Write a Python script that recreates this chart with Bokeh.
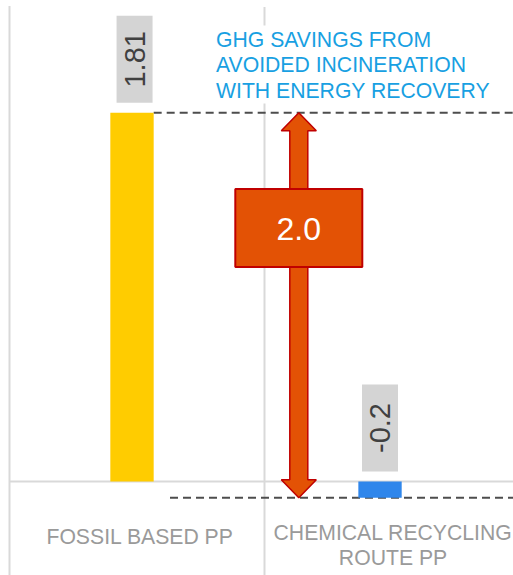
import numpy as np
from bokeh.plotting import figure
from bokeh.models import Range1d
from bokeh.core.properties import value
from bokeh.embed import file_html
from bokeh.resources import INLINE

# ---- data ----
categories = ["FOSSIL BASED PP", "CHEMICAL RECYCLING\nROUTE PP"]
bar_values = [1.81, -0.08]          # bar lengths as drawn
label_values = [1.81, -0.2]         # values printed on labels
bar_colors = ["#ffcc00", "#2f86eb"]
annotation_lines = ["GHG SAVINGS FROM", "AVOIDED INCINERATION", "WITH ENERGY RECOVERY"]
savings = label_values[0] - label_values[1]

FONT = value("Liberation Sans")
W, H = 513, 575
PX_X = 255.0      # pixels per category
PX_Y = 203.7      # pixels per unit
X0_PX = 9.0       # px of x = 0
Y0_PX = 481.0     # px (from top) of value 0


def X(px):
    return (px - X0_PX) / PX_X


def Y(py):
    return (Y0_PX - py) / PX_Y


p = figure(width=W, height=H, output_backend="svg", toolbar_location=None,
           x_range=Range1d(X(0), X(W)), y_range=Range1d(Y(H), Y(0)),
           x_axis_location=None, y_axis_location=None, min_border=0,
           outline_line_color=None, background_fill_color="white")
p.grid.visible = False

xr_end = X(W)
grid_c = "#d9d9d9"
# grid lines
p.segment(x0=[0, 1, 1, 0], y0=[Y(5.5), Y(6.5), Y(103), 0],
          x1=[0, 1, 1, xr_end], y1=[Y(H), Y(25), Y(H), 0],
          line_color=grid_c, line_width=2)

# dashed reference lines
bar_w = 0.17
bar_x = [0.4804, 1.453]
p.segment(x0=[bar_x[0] + bar_w / 2, X(169.5)], y0=bar_values, x1=[xr_end, xr_end], y1=bar_values,
          line_color="#4d4d4d", line_width=2, line_dash="8 5")

# bars
p.vbar(x=bar_x, top=bar_values, bottom=0, width=bar_w, fill_color=bar_colors, line_color=None)

# value labels (rotated with grey boxes)
box_h = 87 / PX_Y
box_w = 36 / PX_X
gap = 10 / PX_Y
box_bottom = [max(v, 0) + gap for v in bar_values]
box_cy = [b + box_h / 2 for b in box_bottom]
lab_x = [bar_x[0] + 0.01, bar_x[1]]
p.rect(x=lab_x, y=box_cy, width=box_w, height=box_h, fill_color="#d4d4d4", line_color=None)
p.text(x=lab_x, y=box_cy, text=[f"{v:g}" for v in label_values], angle=np.pi / 2,
       text_align="center", text_baseline="middle", text_font=FONT,
       text_font_size="29px", text_color="#404040")

# double-headed arrow
cx = X(298.3)
sw, hw, hl = 9 / PX_X, 17.5 / PX_X, 18 / PX_Y
top, bot = bar_values[0], bar_values[1]
ax = [cx, cx + hw, cx + sw, cx + sw, cx + hw, cx, cx - hw, cx - sw, cx - sw, cx - hw]
ay = [top, top - hl, top - hl, bot + hl, bot + hl, bot, bot + hl, bot + hl, top - hl, top - hl]
p.patch(ax, ay, fill_color="#e35205", line_color="#c00000", line_width=1.5)

# savings box
box_cyv = Y(227.5)
p.rect(x=[cx], y=[box_cyv], width=127 / PX_X, height=78 / PX_Y,
       fill_color="#e35205", line_color="#c00000", line_width=2)
p.text(x=[cx], y=[Y(228.5)], text=[f"{savings:.1f}"], text_align="center", text_baseline="middle",
       text_font=FONT, text_font_size="32px", text_color="white")

# annotation text
ann_x = X(215.5)
ann_dy = 25.3 / PX_Y
p.text(x=[ann_x] * 3, y=[Y(39) - i * ann_dy for i in range(3)], text=annotation_lines,
       text_align="left", text_baseline="middle", text_font=FONT,
       text_font_size="21.2px", text_color="#18a0e2")

# category labels
cat_x, cat_y, cat_t = [], [], []
for i, c in enumerate(categories):
    lines = c.split("\n")
    for j, ln in enumerate(lines):
        cat_x.append(i + 0.5 + (0.012 if i == 0 else 0.004))
        cat_y.append(Y(536) if len(lines) == 1 else Y(532 + 24.5 * j))
        cat_t.append(ln)
p.text(x=cat_x, y=cat_y, text=cat_t, text_align="center", text_baseline="middle",
       text_font=FONT, text_font_size="21.2px", text_color="#9a9a9a")

open("out.html", "w").write(file_html(p, INLINE))
